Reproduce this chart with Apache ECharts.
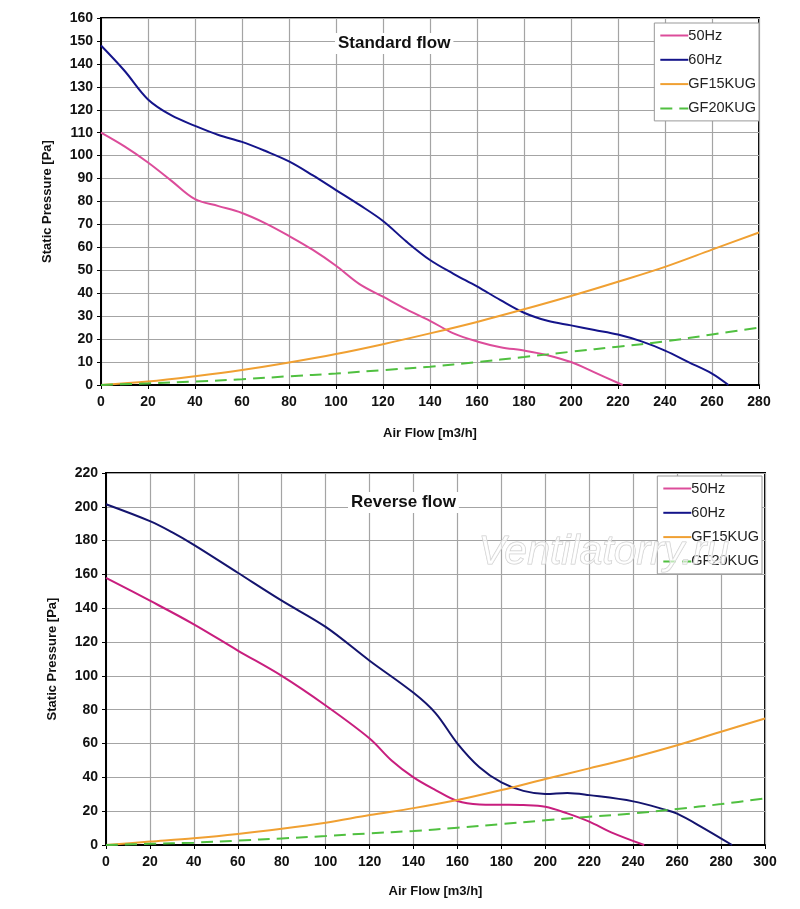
<!DOCTYPE html>
<html>
<head>
<meta charset="utf-8">
<script src="https://cdn.jsdelivr.net/npm/echarts@6/dist/echarts.min.js"></script>
<style>
  html, body { margin: 0; padding: 0; background: #fff; }
  #chart { width: 800px; height: 909px; }
</style>
</head>
<body>
<div id="chart"></div>
<script>
// standard flow (top)
const stdFlow50 = [[0,110],[10,104],[20,97],[30,89],[40,81],[50,78],[60,75],[70,70.5],[80,65],[90,59],[100,52],[110,44],[120,38.5],[130,33],[140,28],[150,22.5],[160,19],[170,16.5],[180,15],[190,13],[200,10],[210,5.5],[222,0]];
const stdFlow60 = [[0,148],[10,137],[20,124.5],[30,117.5],[40,113],[50,109],[60,106],[70,102],[80,97.5],[90,91.5],[100,85],[110,78.5],[120,71.5],[130,62.5],[140,54.5],[150,48.5],[160,43],[170,37],[180,31.5],[190,28],[200,26],[210,24],[220,22],[230,19],[240,15],[250,10],[260,5],[267,0]];
const stdGF15 = [[0,0],[20,1.5],[40,3.8],[60,6.5],[80,9.8],[100,13.5],[120,17.8],[140,22.5],[160,27.5],[180,33],[200,38.8],[220,45],[240,51.5],[260,59],[280,66.5]];
const stdGF20 = [[0,0],[20,0.7],[40,1.5],[60,2.5],[80,3.8],[100,5],[120,6.5],[140,8],[160,10],[180,12.2],[200,14.5],[220,16.7],[240,19],[260,22],[280,25]];

// reverse flow (bottom)
const revFlow50 = [[0,158],[20,144.5],[40,130.5],[60,115],[80,100],[100,82.5],[120,63],[130,50],[140,40],[150,32.5],[160,26],[170,24],[180,23.8],[190,23.6],[200,22.6],[210,18.7],[220,13.8],[230,7.5],[245,0]];
const revFlow60 = [[0,201.5],[20,191.5],[30,185],[40,177.5],[60,161],[80,144.5],[100,129],[120,109],[140,90],[150,78],[160,60],[170,46],[180,37],[190,32],[200,30.2],[210,30.8],[220,29.5],[240,25.8],[255,20.7],[260,18.5],[270,11.5],[285,0]];
const revGF15 = [[0,0],[20,2],[40,4],[60,6.5],[80,9.6],[100,13.2],[120,17.7],[140,21.8],[160,26.6],[180,32.5],[200,39],[220,45.3],[240,51.8],[260,59],[280,67],[300,74.8]];
const revGF20 = [[0,0],[20,0.7],[40,1.4],[60,2.6],[80,3.9],[100,5.3],[120,6.9],[140,8.3],[160,10.2],[180,12.4],[200,14.6],[220,16.7],[240,18.7],[260,21.3],[280,24.2],[300,27.6]];

const seriesNames = ['50Hz', '60Hz', 'GF15KUG', 'GF20KUG'];
const stdColors = ['#dc4c9a', '#14148a', '#f0a032', '#50c040'];
const revColors = ['#c81e7e', '#14146e', '#f0a032', '#50c040'];

const labelFont = { fontFamily: 'Liberation Sans', fontWeight: 'bold', fontSize: 14, color: '#111' };

function makeX(idx, max, gap) {
  return {
    type: 'value', gridIndex: idx, min: 0, max: max, interval: 20,
    name: 'Air Flow [m3/h]', nameLocation: 'middle', nameGap: gap,
    nameTextStyle: Object.assign({}, labelFont, { fontSize: 13 }),
    axisLine: { show: true, onZero: false, lineStyle: { color: '#000', width: 2 } },
    axisTick: { show: true, length: 4, lineStyle: { color: '#000' } },
    axisLabel: Object.assign({ margin: 10 }, labelFont),
    splitLine: { show: true, lineStyle: { color: '#a4a4a4', width: 1.2 } }
  };
}
function makeY(idx, max, step) {
  return {
    type: 'value', gridIndex: idx, min: 0, max: max, interval: step,
    name: 'Static Pressure [Pa]', nameLocation: 'middle', nameGap: 47,
    nameTextStyle: Object.assign({}, labelFont, { fontSize: 13 }),
    axisLine: { show: true, lineStyle: { color: '#000', width: 2 } },
    axisTick: { show: true, length: 4, lineStyle: { color: '#000' } },
    axisLabel: Object.assign({ margin: 8 }, labelFont),
    splitLine: { show: true, lineStyle: { color: '#a4a4a4', width: 1.2 } }
  };
}
function makeSeries(idx, sets, colors) {
  return sets.map((d, i) => ({
    name: seriesNames[i], type: 'line', xAxisIndex: idx, yAxisIndex: idx,
    data: d, symbol: 'none', showSymbol: false, smooth: 0.35,
    lineStyle: { color: colors[i], width: 2, type: i === 3 ? [12, 7] : 'solid' },
    itemStyle: { color: colors[i] }
  }));
}
function makeLegend(right, top) {
  return {
    data: seriesNames, orient: 'vertical', right: right, top: top,
    itemWidth: 28, itemHeight: 14, itemGap: 9.3,
    itemStyle: { opacity: 0 },
    backgroundColor: '#fff', borderColor: '#999', borderWidth: 1,
    padding: [5, 3, 5, 5], borderRadius: 0,
    textStyle: { fontFamily: 'Liberation Sans', fontSize: 14.5, color: '#222', padding: [0, 0, 0, -5] }
  };
}

const chart = echarts.init(document.getElementById('chart'), null, { renderer: 'canvas' });
chart.setOption({
  animation: false,
  backgroundColor: '#fff',
  grid: [
    { left: 101, top: 18, width: 658, height: 367, show: true, borderColor: '#000', borderWidth: 2 },
    { left: 106, top: 473, width: 659, height: 372, show: true, borderColor: '#000', borderWidth: 2 }
  ],
  xAxis: [makeX(0, 280, 42), makeX(1, 300, 40)],
  yAxis: [makeY(0, 160, 10), makeY(1, 220, 20)],
  legend: [makeLegend(41, 23), makeLegend(38, 476)],
  title: [
    { text: 'Standard flow', left: 335, top: 33, padding: [2, 3],
      backgroundColor: '#fff',
      textStyle: { fontFamily: 'Liberation Sans', fontWeight: 'bold', fontSize: 17, color: '#111' } },
    { text: 'Reverse flow', left: 348, top: 492, padding: [2, 3],
      backgroundColor: '#fff',
      textStyle: { fontFamily: 'Liberation Sans', fontWeight: 'bold', fontSize: 17, color: '#111' } }
  ],
  graphic: [{
    type: 'text', left: 478, top: 532, silent: true, z: 100,
    style: { text: 'Ventilatorry.ru', fontFamily: 'Liberation Sans', fontStyle: 'italic',
      fontSize: 41, fill: 'rgba(255,255,255,0.6)', stroke: '#cccccc', lineWidth: 1 }
  }],
  series: makeSeries(0, [stdFlow50, stdFlow60, stdGF15, stdGF20], stdColors)
    .concat(makeSeries(1, [revFlow50, revFlow60, revGF15, revGF20], revColors))
});
</script>
</body>
</html>
